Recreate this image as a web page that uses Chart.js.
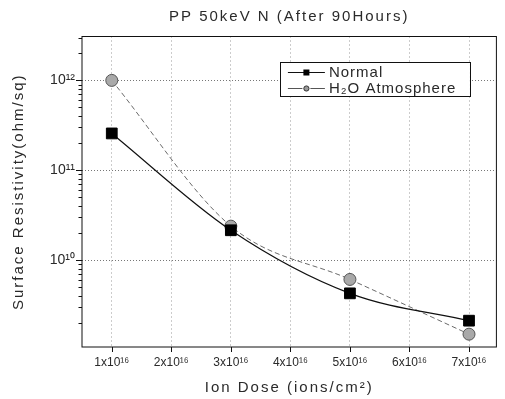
<!DOCTYPE html>
<html><head><meta charset="utf-8">
<script src="https://cdn.jsdelivr.net/npm/chart.js@4.4.0/dist/chart.umd.min.js"></script>
<style>html,body{margin:0;padding:0;background:#fff}#wrap{width:505px;height:399px}</style>
</head><body><div id="wrap"><canvas id="c" width="505" height="399"></canvas></div>
<script>
// ---- data ----
const doses = [1, 3, 5, 7];
const normalValues = [2.57e11, 2.15e10, 4.27e9, 2.12e9];
const h2oValues = [1.0e12, 2.39e10, 6.1e9, 1.5e9];
const seriesLabels = ['Normal', 'H\u2082O Atmosphere'];
const xTickValues = [1, 2, 3, 4, 5, 6, 7];
const xTickLabels = ['1x10\u00B9\u2076', '2x10\u00B9\u2076', '3x10\u00B9\u2076', '4x10\u00B9\u2076', '5x10\u00B9\u2076', '6x10\u00B9\u2076', '7x10\u00B9\u2076'];
const yMajorTicks = [1e10, 1e11, 1e12];
const yMajorLabels = ['10\u00B9\u2070', '10\u00B9\u00B9', '10\u00B9\u00B2'];
const yMinorMantissas = [2, 3, 4, 5, 6, 7, 8, 9];
const yDecades = [1e9, 1e10, 1e11, 1e12];
const titleText = 'PP 50keV N (After 90Hours)';
const xTitle = 'Ion Dose (ions/cm\u00B2)';
const yTitle = 'Surface Resistivity(ohm/sq)';

const Y_MIN = 1.08e9, Y_MAX = 3.08e12;
const TXT = '#2a2a2a';
const FONT = "'Liberation Sans', Arial, sans-serif";

function yTickList() {
  const out = [];
  yDecades.forEach(d => {
    if (d >= Y_MIN && d <= Y_MAX) out.push(d);
    yMinorMantissas.forEach(m => { const v = m * d; if (v >= Y_MIN && v <= Y_MAX) out.push(v); });
  });
  return out.sort((a, b) => a - b);
}
const isMajor = v => yMajorTicks.some(t => Math.abs(t - v) / t < 1e-6);

const framePlugin = {
  id: 'framePlugin',
  beforeDraw(chart) { chart.ctx.letterSpacing = '2px'; },
  beforeDatasetsDraw(chart) { chart.ctx.letterSpacing = '0px'; },
  afterDatasetsDraw(chart) {
    const {ctx, chartArea: ca, scales} = chart;
    ctx.save();
    ctx.strokeStyle = '#111';
    ctx.lineWidth = 1;
    ctx.setLineDash([]);
    ctx.strokeRect(ca.left, ca.top, ca.right - ca.left, ca.bottom - ca.top);
    ctx.beginPath();
    xTickValues.forEach(v => {
      const px = Math.round(scales.x.getPixelForValue(v)) + 0.5;
      ctx.moveTo(px, ca.bottom); ctx.lineTo(px, ca.bottom + 5);
    });
    scales.y.ticks.forEach(t => {
      const py = Math.round(scales.y.getPixelForValue(t.value)) + 0.5;
      const len = isMajor(t.value) ? 6 : 3.5;
      ctx.moveTo(ca.left - len, py); ctx.lineTo(ca.left, py);
    });
    ctx.stroke();
    ctx.restore();
  },
  afterDraw(chart) {
    const {ctx, chartArea: ca} = chart;
    const ds = chart.data.datasets;
    const bx = ca.right - 216.5, by = ca.top + 25.5, bw = 190, bh = 34;
    ctx.save();
    ctx.letterSpacing = '1px';
    ctx.fillStyle = '#fff';
    ctx.fillRect(bx, by, bw, bh);
    ctx.strokeStyle = '#111'; ctx.lineWidth = 1; ctx.setLineDash([]);
    ctx.strokeRect(Math.round(bx) + 0.5, Math.round(by) + 0.5, bw, bh);
    const rows = [by + 10, by + 26];
    ds.forEach((d, i) => {
      const y = Math.round(rows[i]) + 0.5;
      ctx.strokeStyle = i === 0 ? '#111' : '#555';
      ctx.lineWidth = 1;
      ctx.beginPath(); ctx.moveTo(bx + 8, y); ctx.lineTo(bx + 45, y); ctx.stroke();
      const mx = bx + 26.5;
      if (i === 0) {
        ctx.fillStyle = '#000'; ctx.fillRect(mx - 3, y - 3, 6, 6);
      } else {
        ctx.fillStyle = '#fff'; ctx.fillRect(mx - 4, y - 4, 8, 8);
        ctx.beginPath(); ctx.arc(mx, y, 2.6, 0, Math.PI * 2);
        ctx.fillStyle = '#999'; ctx.fill(); ctx.strokeStyle = '#333'; ctx.stroke();
      }
      ctx.fillStyle = TXT;
      ctx.font = '15px ' + FONT;
      ctx.textBaseline = 'middle';
      ctx.textAlign = 'left';
      ctx.fillText(d.label, bx + 49, rows[i] + 0.5);
    });
    ctx.restore();
    ctx.letterSpacing = '0px';
  }
};

new Chart(document.getElementById('c'), {
  type: 'line',
  data: {
    datasets: [
      {
        label: seriesLabels[0],
        data: doses.map((x, i) => ({x, y: normalValues[i]})),
        borderColor: '#111', borderWidth: 1.2,
        pointStyle: 'rect', pointRadius: 7.6, pointHoverRadius: 7.6,
        pointBackgroundColor: '#000', pointBorderColor: '#000', pointBorderWidth: 1,
        cubicInterpolationMode: 'monotone', fill: false
      },
      {
        label: seriesLabels[1],
        data: doses.map((x, i) => ({x, y: h2oValues[i]})),
        borderColor: '#6a6a6a', borderWidth: 1, borderDash: [5, 3],
        pointStyle: 'circle', pointRadius: 6, pointHoverRadius: 6,
        pointBackgroundColor: '#a9a9a9', pointBorderColor: '#555', pointBorderWidth: 1,
        cubicInterpolationMode: 'monotone', fill: false
      }
    ]
  },
  options: {
    responsive: false,
    animation: false,
    devicePixelRatio: 1,
    layout: {padding: {left: 0, right: 1.5, top: 0, bottom: 0}},
    plugins: {
      legend: {display: false},
      tooltip: {enabled: false},
      title: {
        display: true, text: titleText, color: TXT, fullSize: false,
        font: {family: FONT, size: 15, weight: 'normal', lineHeight: 1.2},
        padding: {top: 8, bottom: 10.5}
      }
    },
    scales: {
      x: {
        type: 'linear', min: 0.5, max: 7.46,
        afterBuildTicks: s => { s.ticks = xTickValues.map(v => ({value: v})); },
        afterFit: s => { s.height = 52; },
        ticks: {
          z: 1, color: TXT, padding: 8, maxRotation: 0, autoSkip: false,
          font: {family: FONT, size: 12},
          callback: v => { const i = xTickValues.indexOf(v); return i >= 0 ? xTickLabels[i] : ''; }
        },
        grid: {color: '#999', lineWidth: 1, drawTicks: false},
        border: {display: false, dash: [1, 3]},
        title: {
          display: true, text: xTitle, color: TXT,
          font: {family: FONT, size: 15, lineHeight: 1.2},
          padding: {top: 0, bottom: 2}
        }
      },
      y: {
        type: 'logarithmic', min: Y_MIN, max: Y_MAX,
        afterBuildTicks: s => { s.ticks = yTickList().map(v => ({value: v, major: isMajor(v)})); },
        afterFit: s => { s.width = 82; },
        ticks: {
          z: 1, color: TXT, padding: 7, autoSkip: false,
          font: {family: FONT, size: 14},
          callback: v => { const i = yMajorTicks.findIndex(t => Math.abs(t - v) / t < 1e-6); return i >= 0 ? yMajorLabels[i] : ''; }
        },
        grid: {
          drawTicks: false, lineWidth: 1,
          color: c => (c.tick && isMajor(c.tick.value)) ? '#777' : 'rgba(0,0,0,0)'
        },
        border: {display: false, dash: [1, 2]},
        title: {
          display: true, text: yTitle, color: TXT,
          font: {family: FONT, size: 15, lineHeight: 1.2},
          padding: {top: 10, bottom: 0}
        }
      }
    }
  },
  plugins: [framePlugin]
});
</script>
</body></html>
